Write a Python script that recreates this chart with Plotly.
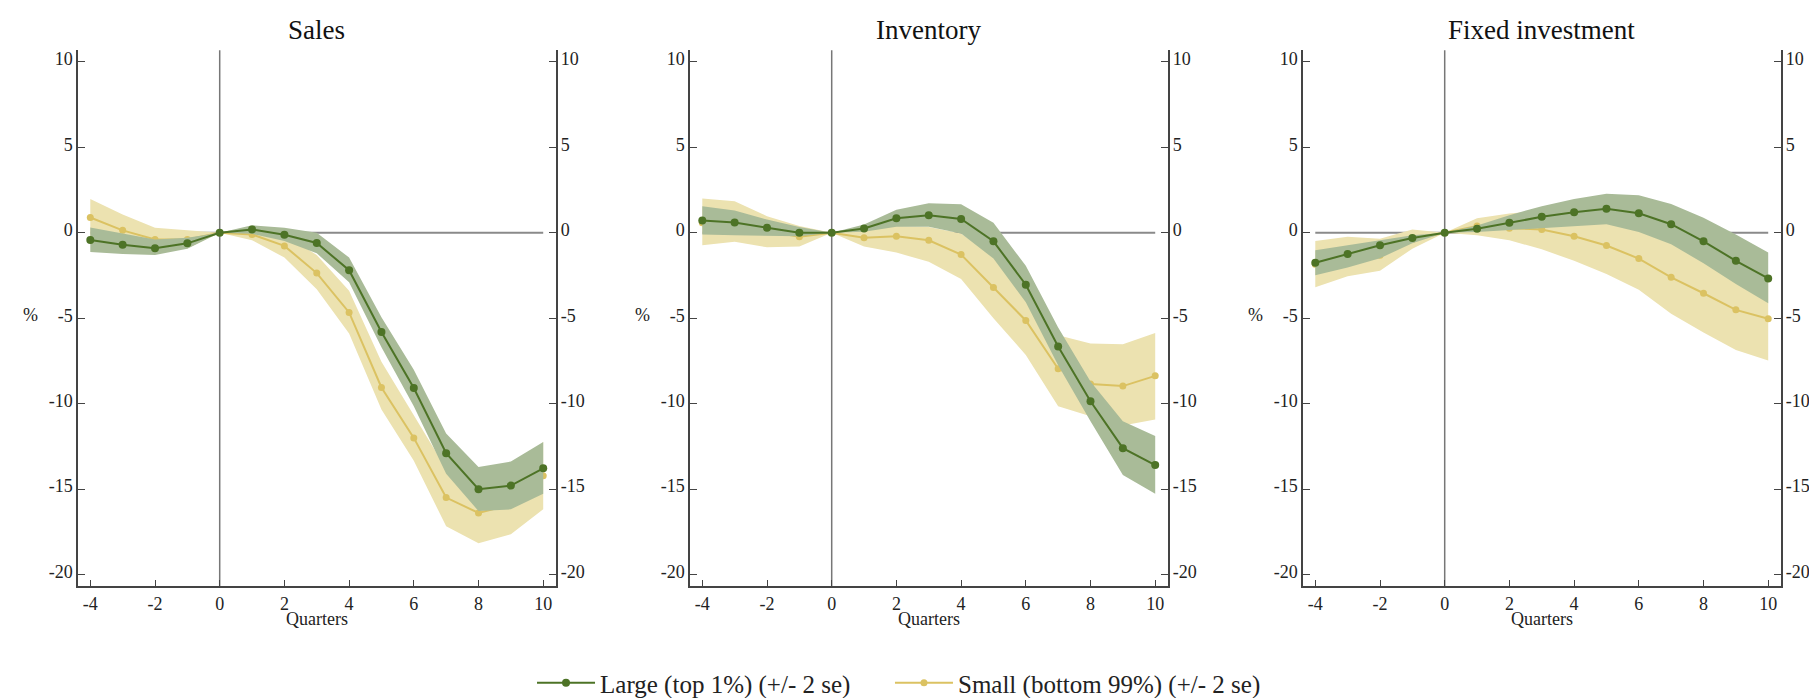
import plotly.graph_objects as go

quarters = [-4, -3, -2, -1, 0, 1, 2, 3, 4, 5, 6, 7, 8, 9, 10]
panel_titles = ["Sales", "Inventory", "Fixed investment"]
y_ticks = [-20, -15, -10, -5, 0, 5, 10]
x_ticks = [-4, -2, 0, 2, 4, 6, 8, 10]
legend_large = "Large (top 1%) (+/- 2 se)"
legend_small = "Small (bottom 99%) (+/- 2 se)"

# Sales
sales_large = [-0.43, -0.70, -0.91, -0.62, 0, 0.19, -0.12, -0.60, -2.19, -5.80, -9.08, -12.9, -15.0, -14.79, -13.78]
sales_large_hi = [0.31, -0.05, -0.40, -0.30, 0, 0.44, 0.29, 0.0, -1.45, -4.95, -8.02, -11.75, -13.7, -13.38, -12.24]
sales_large_lo = [-1.12, -1.25, -1.30, -0.93, 0, -0.06, -0.48, -1.2, -2.9, -6.7, -10.15, -14.1, -16.28, -16.18, -15.27]
sales_small = [0.89, 0.14, -0.39, -0.39, 0, -0.1, -0.77, -2.36, -4.66, -9.05, -12.0, -15.49, -16.39, -15.9, -14.21]
sales_small_hi = [1.97, 1.06, 0.29, 0.14, 0, 0.1, -0.1, -1.3, -3.4, -7.54, -10.63, -13.8, -14.6, -14.2, -12.24]
sales_small_lo = [-0.2, -0.8, -1.07, -0.92, 0, -0.44, -1.45, -3.3, -5.9, -10.34, -13.34, -17.17, -18.17, -17.63, -16.18]

# Inventory
inv_large = [0.72, 0.60, 0.29, 0.0, 0, 0.25, 0.85, 1.03, 0.81, -0.50, -3.04, -6.65, -9.86, -12.6, -13.59]
inv_large_hi = [1.55, 1.30, 0.77, 0.33, 0, 0.48, 1.35, 1.72, 1.66, 0.58, -1.93, -5.55, -8.7, -11.02, -11.89]
inv_large_lo = [-0.1, -0.15, -0.19, -0.2, 0, 0.06, 0.35, 0.35, -0.04, -1.51, -4.06, -7.75, -11.02, -14.17, -15.27]
inv_small = [0.58, 0.55, 0.1, -0.23, 0, -0.29, -0.21, -0.44, -1.28, -3.21, -5.13, -7.96, -8.85, -8.97, -8.37]
inv_small_hi = [2.01, 1.84, 0.97, 0.39, 0, 0.2, 0.39, 0.33, -0.04, -1.4, -3.9, -6.0, -6.48, -6.52, -5.86]
inv_small_lo = [-0.73, -0.52, -0.85, -0.81, 0, -0.81, -1.16, -1.7, -2.71, -5.0, -7.15, -10.15, -10.73, -11.27, -10.92]

# Fixed investment
fix_large = [-1.76, -1.24, -0.73, -0.31, 0, 0.23, 0.58, 0.93, 1.20, 1.41, 1.14, 0.50, -0.50, -1.64, -2.67]
fix_large_hi = [-1.02, -0.73, -0.43, -0.15, 0, 0.43, 1.03, 1.55, 1.97, 2.28, 2.19, 1.68, 0.87, -0.1, -1.16]
fix_large_lo = [-2.48, -2.03, -1.49, -0.62, 0, 0.04, 0.15, 0.29, 0.39, 0.5, 0.04, -0.68, -1.78, -3.0, -4.12]
fix_small = [-1.85, -1.35, -1.32, -0.4, 0, 0.39, 0.27, 0.19, -0.21, -0.75, -1.51, -2.61, -3.54, -4.51, -5.03]
fix_small_hi = [-0.48, -0.23, -0.35, 0.19, 0, 0.85, 1.12, 1.3, 1.2, 0.92, 0.31, -0.48, -1.24, -2.16, -2.58]
fix_small_lo = [-3.19, -2.55, -2.22, -0.93, 0, -0.14, -0.44, -0.97, -1.64, -2.42, -3.33, -4.74, -5.84, -6.86, -7.48]

panels = [
    (sales_large, sales_large_hi, sales_large_lo, sales_small, sales_small_hi, sales_small_lo),
    (inv_large, inv_large_hi, inv_large_lo, inv_small, inv_small_hi, inv_small_lo),
    (fix_large, fix_large_hi, fix_large_lo, fix_small, fix_small_hi, fix_small_lo),
]

W, H = 1817, 698
GREEN = "#4d7326"
GREEN_BAND = "#a9bb98"
YELLOW = "#dbc262"
YELLOW_BAND = "#ece2b0"
FONT = "Liberation Serif"
AXIS_COLOR = "#444444"

# pixel layout
dom_px = [(70, 547.5), (682, 1159.5), (1295, 1772.5)]
y_top_px, y_bot_px = 42.7, 583.3
y_dom = [1 - y_bot_px / H, 1 - y_top_px / H]
y_range = [-20.68, 10.67]
x_range = [-4.38, 10.38]

legend_common = dict(orientation="h", xanchor="left", y=1 - 681 / H, yanchor="middle",
                     font=dict(family=FONT, size=25, color="#222222"), itemwidth=58,
                     bgcolor="rgba(0,0,0,0)")

fig = go.Figure()
layout = dict(
    width=W, height=H,
    margin=dict(l=0, r=0, t=0, b=0),
    paper_bgcolor="white", plot_bgcolor="white",
    font=dict(family=FONT, size=18, color="#222222"),
    showlegend=True,
    legend=dict(x=0.2884, **legend_common),
    legend2=dict(x=0.4854, **legend_common),
    annotations=[], shapes=[],
)

for i, (lg, lg_hi, lg_lo, sm, sm_hi, sm_lo) in enumerate(panels):
    k = i + 1
    xa = "x" if k == 1 else f"x{k}"
    ya = "y" if k == 1 else f"y{k}"
    yr = f"y{k + 3}"
    first = (i == 0)

    fig.add_trace(go.Scatter(x=quarters + quarters[::-1], y=sm_hi + sm_lo[::-1], fill="toself",
                             fillcolor=YELLOW_BAND, line=dict(width=0), mode="lines",
                             hoverinfo="skip", showlegend=False, xaxis=xa, yaxis=ya))
    fig.add_trace(go.Scatter(x=quarters, y=sm, mode="lines+markers", name=legend_small,
                             line=dict(color=YELLOW, width=2), marker=dict(color=YELLOW, size=7),
                             legendgroup="small", showlegend=first, legend="legend2",
                             xaxis=xa, yaxis=ya))
    fig.add_trace(go.Scatter(x=quarters + quarters[::-1], y=lg_hi + lg_lo[::-1], fill="toself",
                             fillcolor=GREEN_BAND, line=dict(width=0), mode="lines",
                             hoverinfo="skip", showlegend=False, xaxis=xa, yaxis=ya))
    fig.add_trace(go.Scatter(x=quarters, y=lg, mode="lines+markers", name=legend_large,
                             line=dict(color=GREEN, width=2), marker=dict(color=GREEN, size=8),
                             legendgroup="large", showlegend=first, legend="legend",
                             xaxis=xa, yaxis=ya))
    # invisible trace so the right-hand axis is drawn
    fig.add_trace(go.Scatter(x=[quarters[0]], y=[lg[0]], mode="markers", marker=dict(opacity=0),
                             hoverinfo="skip", showlegend=False, xaxis=xa, yaxis=yr))

    x0p, x1p = dom_px[i]
    xd = [x0p / W, x1p / W]
    xkey = "xaxis" if k == 1 else f"xaxis{k}"
    ykey = "yaxis" if k == 1 else f"yaxis{k}"
    common = dict(ticks="inside", ticklen=7, tickwidth=1.3, tickcolor=AXIS_COLOR,
                  showline=True, linecolor=AXIS_COLOR, linewidth=1.5, showgrid=False,
                  zeroline=False, tickfont=dict(family=FONT, size=18, color="#222222"),
                  fixedrange=True)
    layout[xkey] = dict(domain=xd, anchor=ya, range=x_range, tickvals=x_ticks,
                        ticktext=[str(v) for v in x_ticks], **common)
    layout[ykey] = dict(domain=y_dom, anchor=xa, range=y_range, tickvals=y_ticks,
                        ticktext=[str(v) for v in y_ticks], ticklabelshift=-3, **common)
    layout[f"yaxis{k + 3}"] = dict(overlaying=ya, side="right", anchor=xa, range=y_range,
                                   tickvals=y_ticks, ticktext=[str(v) for v in y_ticks],
                                   ticklabelshift=-3, **common)

    # reference lines
    layout["shapes"].append(dict(type="line", xref=xa, yref=ya, x0=quarters[0], x1=quarters[-1],
                                 y0=0, y1=0, line=dict(color="#8a8a8a", width=2), layer="below"))
    layout["shapes"].append(dict(type="line", xref=xa, yref=f"{ya} domain", x0=0, x1=0,
                                 y0=0, y1=1, line=dict(color="#777777", width=1.5), layer="below"))

    cx = (xd[0] + xd[1]) / 2
    layout["annotations"].append(dict(text=panel_titles[i], x=cx, y=1 - 22 / H, xref="paper",
                                      yref="paper", showarrow=False, xanchor="center",
                                      yanchor="middle",
                                      font=dict(family=FONT, size=27, color="#111111")))
    layout["annotations"].append(dict(text="Quarters", x=cx, y=1 - 616 / H, xref="paper",
                                      yref="paper", showarrow=False, xanchor="center",
                                      yanchor="middle",
                                      font=dict(family=FONT, size=18, color="#222222")))
    layout["annotations"].append(dict(text="%", x=(x0p - 48) / W, y=1 - 310 / H, xref="paper",
                                      yref="paper", showarrow=False, xanchor="center",
                                      yanchor="middle",
                                      font=dict(family=FONT, size=18, color="#222222")))

fig.update_layout(**layout)
fig.write_html("out.html")
